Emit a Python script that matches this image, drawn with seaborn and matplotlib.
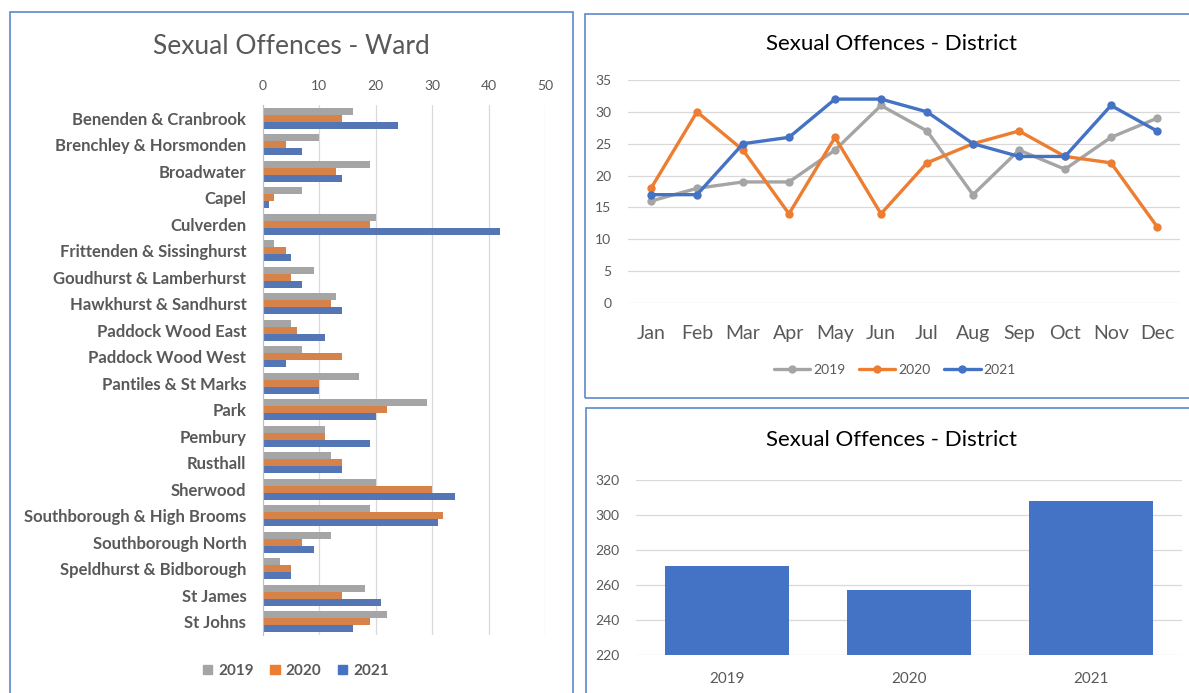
import matplotlib
matplotlib.use('Agg')
import matplotlib.pyplot as plt
from matplotlib.patches import Rectangle, Patch
from matplotlib.lines import Line2D
import seaborn as sns, numpy as np, pandas as pd

# ---- data ----
wards = ['Benenden & Cranbrook', 'Brenchley & Horsmonden', 'Broadwater', 'Capel', 'Culverden',
         'Frittenden & Sissinghurst', 'Goudhurst & Lamberhurst', 'Hawkhurst & Sandhurst',
         'Paddock Wood East', 'Paddock Wood West', 'Pantiles & St Marks', 'Park', 'Pembury',
         'Rusthall', 'Sherwood', 'Southborough & High Brooms', 'Southborough North',
         'Speldhurst & Bidborough', 'St James', 'St Johns']
ward_2019 = [16, 10, 19, 7, 20, 2, 9, 13, 5, 7, 17, 29, 11, 12, 20, 19, 12, 3, 18, 22]
ward_2020 = [14, 4, 13, 2, 19, 4, 5, 12, 6, 14, 10, 22, 11, 14, 30, 32, 7, 5, 14, 19]
ward_2021 = [24, 7, 14, 1, 42, 5, 7, 14, 11, 4, 10, 20, 19, 14, 34, 31, 9, 5, 21, 16]

months = ['Jan', 'Feb', 'Mar', 'Apr', 'May', 'Jun', 'Jul', 'Aug', 'Sep', 'Oct', 'Nov', 'Dec']
month_2019 = [16, 18, 19, 19, 24, 31, 27, 17, 24, 21, 26, 29]
month_2020 = [18, 30, 24, 14, 26, 14, 22, 25, 27, 23, 22, 12]
month_2021 = [17, 17, 25, 26, 32, 32, 30, 25, 23, 23, 31, 27]

years = ['2019', '2020', '2021']
district_totals = [271, 257, 308]

GRAY, ORANGE, BLUE = '#A5A5A5', '#ED7D31', '#4472C4'
TXT = '#595959'
GRID = '#D9D9D9'

sns.set_style('white')
plt.rcParams['font.family'] = ['Lato', 'DejaVu Sans']

W, H = 1189, 693
def box(x0, y0, x1, y1):
    return [x0 / W, 1 - y1 / H, (x1 - x0) / W, (y1 - y0) / H]

fig = plt.figure(figsize=(W / 100, H / 100), dpi=100)

# panel borders
for (x0, y0, x1, y1) in [(10, 12, 573, 705), (585, 14, 1200, 398), (586, 408, 1200, 705)]:
    fig.patches.append(Rectangle((x0 / W, 1 - y1 / H), (x1 - x0) / W, (y1 - y0) / H,
                                 transform=fig.transFigure, fill=False,
                                 edgecolor='#5B87D0', lw=1.2))

# ---- ward chart ----
ward_df = pd.DataFrame({'Ward': wards * 3,
                        'Year': ['2019'] * 20 + ['2020'] * 20 + ['2021'] * 20,
                        'Count': ward_2019 + ward_2020 + ward_2021})
ax1 = fig.add_axes(box(263, 105, 545, 635))
sns.barplot(data=ward_df, y='Ward', x='Count', hue='Year', orient='h',
            palette=[GRAY, ORANGE, BLUE], width=0.8, linewidth=0, legend=False, ax=ax1)
ax1.set_xlim(0, 50)
ax1.set_xticks(range(0, 51, 10))
ax1.xaxis.tick_top()
ax1.grid(axis='x', color=GRID, lw=0.9)
ax1.set_axisbelow(True)
for s in ['top', 'right', 'bottom']:
    ax1.spines[s].set_visible(False)
ax1.spines['left'].set_color('#BFBFBF')
ax1.tick_params(axis='x', length=0, pad=9, labelsize=10, labelcolor=TXT)
ax1.tick_params(axis='y', length=0, pad=12, labelsize=12, labelcolor=TXT)
for t in ax1.get_yticklabels():
    t.set_fontweight('bold')
ax1.set_xlabel('')
ax1.set_ylabel('')
fig.text(291 / W, 1 - 47 / H, 'Sexual Offences - Ward', ha='center', va='center',
         fontsize=19, color=TXT)
fig.legend(handles=[Patch(color=c, label=y) for c, y in zip([GRAY, ORANGE, BLUE], years)],
           loc='center', bbox_to_anchor=(296 / W, 1 - 671 / H), ncol=3, frameon=False,
           handlelength=0.6, handleheight=0.6, handletextpad=0.4, columnspacing=1.1,
           prop={'size': 11, 'weight': 'bold'}, labelcolor=TXT)

# ---- monthly line chart ----
month_df = pd.DataFrame({'Month': months * 3,
                         'Year': ['2019'] * 12 + ['2020'] * 12 + ['2021'] * 12,
                         'Count': month_2019 + month_2020 + month_2021})
ax2 = fig.add_axes(box(628, 80, 1180, 303))
sns.lineplot(data=month_df, x='Month', y='Count', hue='Year', palette=[GRAY, ORANGE, BLUE],
             marker='o', markersize=6, markeredgewidth=0, lw=2.4, sort=False,
             legend=False, ax=ax2)
ax2.set_xlim(-0.5, 11.5)
ax2.set_ylim(0, 35)
ax2.set_yticks(range(0, 36, 5))
ax2.grid(axis='y', color=GRID, lw=0.9)
ax2.set_axisbelow(True)
sns.despine(ax=ax2, left=True, bottom=True)
ax2.tick_params(axis='y', length=0, pad=12, labelsize=10, labelcolor=TXT)
ax2.tick_params(axis='x', length=0, pad=16, labelsize=14, labelcolor=TXT)
ax2.set_xlabel('')
ax2.set_ylabel('')
fig.text(891 / W, 1 - 44 / H, 'Sexual Offences - District', ha='center', va='center',
         fontsize=16, color='black')
fig.legend(handles=[Line2D([], [], color=c, lw=2.4, marker='o', markersize=5, label=y)
                    for c, y in zip([GRAY, ORANGE, BLUE], years)],
           loc='center', bbox_to_anchor=(895 / W, 1 - 370 / H), ncol=3, frameon=False,
           handlelength=2.6, handletextpad=0.2, columnspacing=1.0,
           fontsize=10, labelcolor=TXT)

# ---- yearly totals bar chart ----
tot_df = pd.DataFrame({'Year': years, 'Total': district_totals})
ax3 = fig.add_axes(box(636, 480, 1182, 655))
sns.barplot(data=tot_df, x='Year', y='Total', color=BLUE, saturation=1, width=0.68,
            linewidth=0, ax=ax3)
ax3.set_ylim(220, 320)
ax3.set_yticks(range(220, 321, 20))
ax3.grid(axis='y', color=GRID, lw=0.9)
ax3.set_axisbelow(True)
sns.despine(ax=ax3, left=True, bottom=True)
ax3.tick_params(axis='y', length=0, pad=12, labelsize=10, labelcolor=TXT)
ax3.tick_params(axis='x', length=0, pad=12, labelsize=11, labelcolor=TXT)
ax3.set_xlabel('')
ax3.set_ylabel('')
fig.text(891 / W, 1 - 440 / H, 'Sexual Offences - District', ha='center', va='center',
         fontsize=16, color='black')

fig.savefig('out.png', dpi=100)
